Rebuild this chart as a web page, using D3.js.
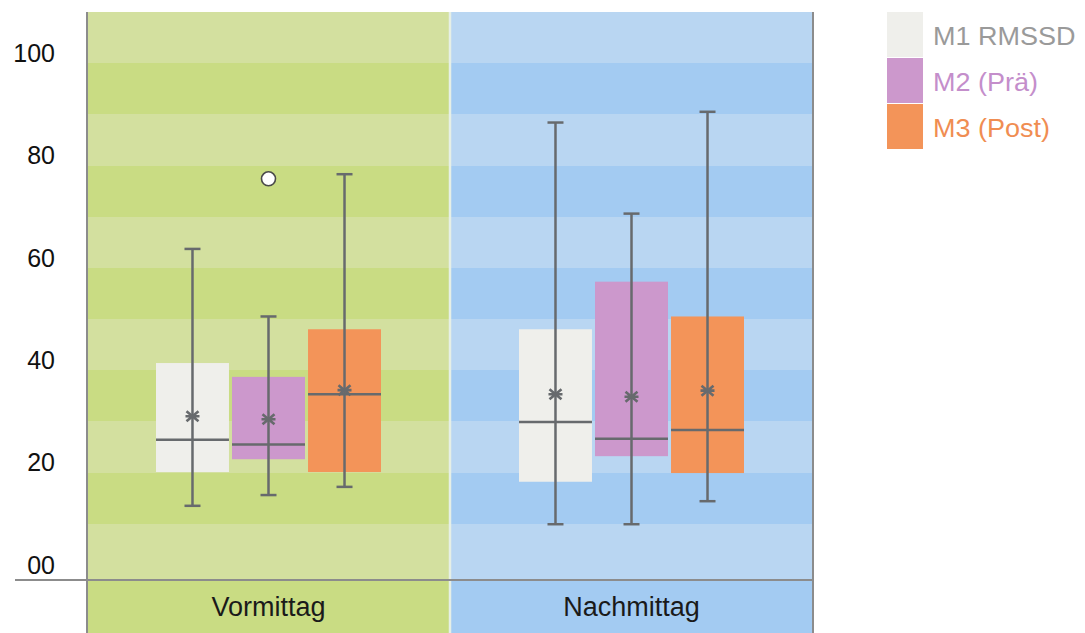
<!DOCTYPE html>
<html>
<head>
<meta charset="utf-8">
<script src="https://cdn.jsdelivr.net/npm/d3@7"></script>
<style>
  html, body { margin: 0; padding: 0; background: #ffffff; }
  svg { display: block; font-family: "Liberation Sans", Arial, Helvetica, sans-serif; }
</style>
</head>
<body>
<svg id="chart" width="1085" height="633"></svg>
<script>
// Time-of-day groups and the three measurements shown in each
const categories = ["Vormittag", "Nachmittag"];
const series = ["M1 RMSSD", "M2 (Prä)", "M3 (Post)"];

// Box-plot statistics, one row per category, one entry per series
const whiskerLow  = [[11.5, 13.6, 15.2], [7.9, 7.9, 12.4]];
const quartile1   = [[18.1, 20.6, 18.1], [16.2, 21.2, 17.9]];
const median      = [[24.4, 23.5, 33.3], [27.9, 24.6, 26.3]];
const quartile3   = [[39.4, 36.7, 46.0], [46.0, 55.3, 48.5]];
const whiskerHigh = [[61.7, 48.5, 76.3], [86.4, 68.6, 88.5]];
const mean        = [[29.0, 28.4, 34.1], [33.3, 32.8, 34.0]];

// Single outlier point
const outlierCategory = ["Vormittag"];
const outlierSeries = ["M2 (Prä)"];
const outlierValue = [75.4];

// Y axis ticks and their printed labels
const tickValues = [0, 20, 40, 60, 80, 100];
const tickLabels = ["00", "20", "40", "60", "80", "100"];

const seriesFill = ["#efefeb", "#cc98cc", "#f39459"];
const seriesText = ["#9a9a9a", "#c48ecb", "#f08d52"];
const panelLight = ["#d3e09f", "#b9d6f2"];
const panelDark  = ["#c9dc83", "#a3cbf2"];
const lineGray = "#676a6d";

const svg = d3.select("#chart");

const plotTop = 12, plotBottom = 580, plotLeft = 87, plotRight = 813, figBottom = 633;

const y = d3.scaleLinear().domain([-3, 108]).range([plotBottom, plotTop]);
const x0 = d3.scaleBand().domain(categories).range([plotLeft, plotRight]).paddingInner(0).paddingOuter(0);
const groupWidth = 225;
const x1 = d3.scaleBand().domain(series).range([0, groupWidth]).paddingInner(0.04).paddingOuter(0);
const groupOffset = (x0.bandwidth() - groupWidth) / 2;

// Horizontal stripes: alternating 10-unit bands across each panel
const [d0, d1] = y.domain();
const edges = [d0].concat(d3.range(8, d1, 10)).concat([d1]);
const stripes = d3.pairs(edges).map((p, i) => ({ lo: p[0], hi: p[1], i }));

const panels = svg.append("g").attr("shape-rendering", "crispEdges")
  .selectAll("g.panel")
  .data(categories).join("g").attr("class", "panel");

panels.each(function (cat, ci) {
  const g = d3.select(this);
  g.selectAll("rect.stripe").data(stripes).join("rect")
    .attr("class", "stripe")
    .attr("x", x0(cat))
    .attr("width", x0.bandwidth())
    .attr("y", d => Math.round(y(d.hi)))
    .attr("height", d => Math.round(y(d.lo)) - Math.round(y(d.hi)))
    .attr("fill", d => d.i % 2 === 0 ? panelLight[ci] : panelDark[ci]);
  // category label strip below the axis line
  g.append("rect")
    .attr("x", x0(cat)).attr("width", x0.bandwidth())
    .attr("y", plotBottom).attr("height", figBottom - plotBottom)
    .attr("fill", panelDark[ci]);
  g.append("text")
    .attr("x", x0(cat) + x0.bandwidth() / 2)
    .attr("y", 616)
    .attr("text-anchor", "middle")
    .attr("font-size", 27)
    .attr("fill", "#1a1a1a")
    .attr("shape-rendering", "auto")
    .text(cat);
});

// Thin light divider between the two panels
svg.append("line")
  .attr("x1", x0(categories[1])).attr("x2", x0(categories[1]))
  .attr("y1", plotTop).attr("y2", figBottom)
  .attr("stroke", "#e6efe6").attr("stroke-width", 2.5);

// Frame lines
svg.append("line")
  .attr("x1", plotLeft).attr("x2", plotLeft)
  .attr("y1", plotTop).attr("y2", figBottom)
  .attr("stroke", "#8c8c8c").attr("stroke-width", 2);
svg.append("line")
  .attr("x1", plotRight).attr("x2", plotRight)
  .attr("y1", plotTop).attr("y2", figBottom)
  .attr("stroke", "#8c8c8c").attr("stroke-width", 2);
svg.append("line")
  .attr("x1", 15).attr("x2", plotRight)
  .attr("y1", plotBottom).attr("y2", plotBottom)
  .attr("stroke", "#8c8c8c").attr("stroke-width", 2);

// Y tick labels
svg.append("g").selectAll("text")
  .data(tickValues).join("text")
  .attr("x", 55)
  .attr("y", d => y(d))
  .attr("dy", "0.36em")
  .attr("text-anchor", "end")
  .attr("font-size", 25)
  .attr("fill", "#111111")
  .text((d, i) => tickLabels[i]);

// Box plots
const boxes = [];
categories.forEach((cat, ci) => {
  series.forEach((s, si) => {
    boxes.push({
      cat, s, ci, si,
      lo: whiskerLow[ci][si], q1: quartile1[ci][si], med: median[ci][si],
      q3: quartile3[ci][si], hi: whiskerHigh[ci][si], mean: mean[ci][si]
    });
  });
});
const bx = d => x0(d.cat) + groupOffset + x1(d.s);
const bc = d => bx(d) + x1.bandwidth() / 2;

const bg = svg.append("g").selectAll("g.box").data(boxes).join("g").attr("class", "box");

bg.append("rect")
  .attr("x", bx)
  .attr("width", x1.bandwidth())
  .attr("y", d => y(d.q3))
  .attr("height", d => y(d.q1) - y(d.q3))
  .attr("fill", d => seriesFill[d.si]);

bg.append("line")
  .attr("x1", bc).attr("x2", bc)
  .attr("y1", d => y(d.lo)).attr("y2", d => y(d.hi))
  .attr("stroke", lineGray).attr("stroke-width", 2.5);

const capHalf = 8;
["lo", "hi"].forEach(k => {
  bg.append("line")
    .attr("x1", d => bc(d) - capHalf).attr("x2", d => bc(d) + capHalf)
    .attr("y1", d => y(d[k])).attr("y2", d => y(d[k]))
    .attr("stroke", lineGray).attr("stroke-width", 2.5);
});

bg.append("line")
  .attr("x1", bx).attr("x2", d => bx(d) + x1.bandwidth())
  .attr("y1", d => y(d.med)).attr("y2", d => y(d.med))
  .attr("stroke", lineGray).attr("stroke-width", 2.5);

// Mean marker: flattened asterisk
const star = "M-7,0H7M-6,-5L6,5M-6,5L6,-5";
bg.append("path")
  .attr("transform", d => `translate(${bc(d)},${y(d.mean)})`)
  .attr("d", star)
  .attr("fill", "none")
  .attr("stroke", lineGray).attr("stroke-width", 2.6);

// Outliers
svg.append("g").selectAll("circle")
  .data(outlierValue).join("circle")
  .attr("cx", (v, i) => x0(outlierCategory[i]) + groupOffset + x1(outlierSeries[i]) + x1.bandwidth() / 2)
  .attr("cy", v => y(v))
  .attr("r", 7)
  .attr("fill", "#ffffff")
  .attr("stroke", "#4a4a4a").attr("stroke-width", 1.6);

// Legend
const legend = svg.append("g").attr("transform", "translate(887,12)");
const legStep = 46;
const li = legend.selectAll("g").data(series).join("g")
  .attr("transform", (d, i) => `translate(0,${i * legStep})`);
li.append("rect")
  .attr("width", 36).attr("height", 45)
  .attr("fill", (d, i) => seriesFill[i]);
li.append("text")
  .attr("transform", "translate(46,33) scale(1.08,1)")
  .attr("font-size", 25)
  .attr("fill", (d, i) => seriesText[i])
  .text(d => d);
</script>
</body>
</html>
